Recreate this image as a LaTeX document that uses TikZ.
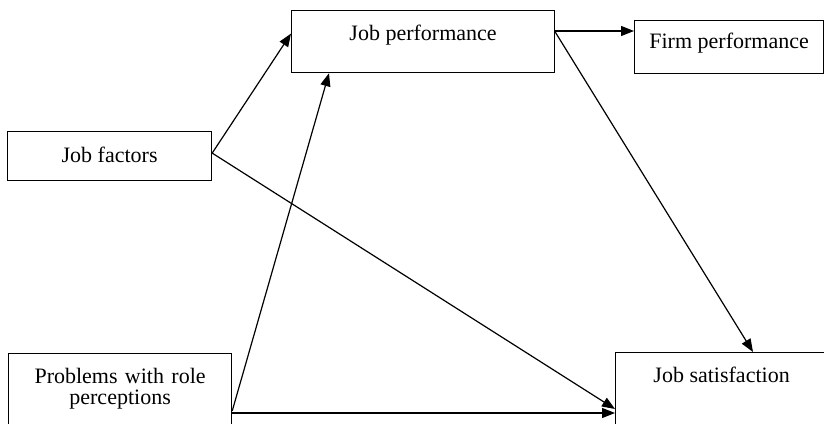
\documentclass[tikz,border=0pt]{standalone}
\usepackage{fontspec}
\setmainfont{Liberation Serif}
\usetikzlibrary{arrows.meta}
\tikzset{
  box/.style={draw, line width=1.2pt, rectangle, anchor=north west, inner sep=0pt,
    font=\fontsize{22}{21}\selectfont},
  arr/.style={line width=1.2pt, -{Triangle[length=13pt,width=10pt]}}
}
\begin{document}
\begin{tikzpicture}[x=1pt, y=-1pt]
            \useasboundingbox (0,0) rectangle (824,423);
            \clip (0,0) rectangle (824,423);
            \node[box, minimum width=263pt, text height=30pt, text depth=32pt] at (291, 10)   (jp) {Job performance};
            \node[box, minimum width=189pt, text height=28pt, text depth=25pt] at (634, 20)   (fp) {Firm performance};
            \node[box, minimum width=204pt, text height=31pt, text depth=18pt] at (7, 131)   (jf) {Job factors};
            \node[box, text width=223pt, align=center, text height=30pt, text depth=60pt] at (8, 353)   (pr) {Problems with role\\perceptions};
            \node[box, minimum width=212pt, text height=30pt, text depth=80pt] at (615, 352)   (js) {Job satisfaction};
    
            \draw [arr] ([yshift=3pt]jf.east) -- ([yshift=8pt]jp.west);
            \draw [arr] ([yshift=3pt]jf.east) -- ([yshift=-57pt]js.north west);
            \draw [arr] ([yshift=-58pt]pr.north east) -- ([xshift=38pt]jp.south west);
            \draw [arr] ([yshift=-60pt]pr.north east) -- ([yshift=-61pt]js.north west);
            \draw [arr] ([yshift=-21pt]jp.north east) -- ([yshift=-11pt]fp.north west);
            \draw [arr] ([yshift=-22pt]jp.north east) -- ([xshift=138pt]js.north west);
        \end{tikzpicture}
\end{document}
